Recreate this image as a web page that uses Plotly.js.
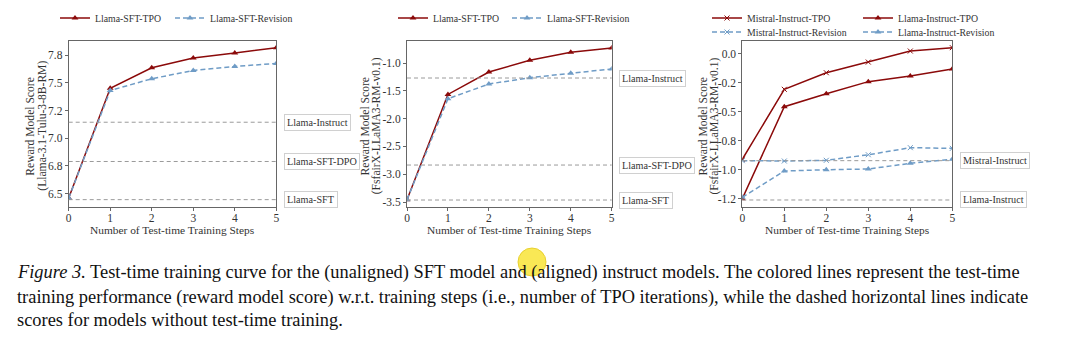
<!DOCTYPE html>
<html><head><meta charset="utf-8">
<script src="https://cdn.plot.ly/plotly-3.0.1.min.js"></script>
<style>html,body{margin:0;padding:0;background:#fff}#c{width:1080px;height:354px}</style>
</head><body><div id="c"></div>
<script>
const steps = [0, 1, 2, 3, 4, 5];
const stepLabels = ['0', '1', '2', '3', '4', '5'];
const xTitle = 'Number of Test-time Training Steps';

// Panel 1 (Llama-3.1-Tulu-3-8B-RM)
const p1Tpo = [6.46, 7.45, 7.635, 7.723, 7.768, 7.816];
const p1Rev = [6.46, 7.43, 7.536, 7.611, 7.647, 7.674];
const p1BaseNames = ['Llama-Instruct', 'Llama-SFT-DPO', 'Llama-SFT'];
const p1BaseVals = [7.144, 6.79, 6.446];
const p1TickVals = [6.5, 6.75, 7.0, 7.25, 7.5, 7.75];
const p1TickText = ['6.5', '6.8', '7.0', '7.2', '7.5', '7.8'];
const p1YTitle = ['Reward Model Score', '(Llama-3.1-Tulu-3-8B-RM)'];

// Panel 2 (FsfairX-LLaMA3-RM-v0.1), SFT model
const p2Tpo = [-3.46, -1.565, -1.162, -0.951, -0.808, -0.73];
const p2Rev = [-3.46, -1.643, -1.378, -1.264, -1.185, -1.108];
const p2BaseNames = ['Llama-Instruct', 'Llama-SFT-DPO', 'Llama-SFT'];
const p2BaseVals = [-1.27, -2.835, -3.464];
const p2TickVals = [-3.5, -3.0, -2.5, -2.0, -1.5, -1.0];
const p2TickText = ['-3.5', '-3.0', '-2.5', '-2.0', '-1.5', '-1.0'];
const p2YTitle = ['Reward Model Score', '(FsfairX-LLaMA3-RM-v0.1)'];

// Panel 3 (FsfairX-LLaMA3-RM-v0.1), instruct models
const p3MistralTpo = [-0.91, -0.307, -0.164, -0.072, 0.023, 0.052];
const p3LlamaTpo = [-1.25, -0.457, -0.345, -0.241, -0.192, -0.132];
const p3MistralRev = [-0.922, -0.925, -0.919, -0.871, -0.81, -0.816];
const p3LlamaRev = [-1.238, -1.011, -1.0, -0.994, -0.945, -0.91];
const p3BaseNames = ['Mistral-Instruct', 'Llama-Instruct'];
const p3BaseVals = [-0.922, -1.261];
const p3TickVals = [-1.25, -1.0, -0.75, -0.5, -0.25, 0.0];
const p3TickText = ['-1.2', '-1.0', '-0.8', '-0.5', '-0.2', '0.0'];
const p3YTitle = ['Reward Model Score', '(FsfairX-LLaMA3-RM-v0.1)'];

const captionLines = [
  '<i>Figure 3.</i> Test-time training curve for the (unaligned) SFT model and (aligned) instruct models. The colored lines represent the test-time',
  'training performance (reward model score) w.r.t. training steps (i.e., number of TPO iterations), while the dashed horizontal lines indicate',
  'scores for models without test-time training.'
];

const RED = '#8b0a0a', BLUE = '#6f9cc6', GRAY = '#9a9a9a';
const FONT = 'Liberation Serif, Times New Roman, serif';

function tpo(y, name, xa, ya, leg, sym) {
  const m = sym === 'x-thin'
    ? {symbol: 'x-thin', size: 5, color: RED, line: {color: RED, width: 1}}
    : {symbol: 'triangle-up', size: 6, color: RED};
  return {x: steps, y: y, name: name, xaxis: xa, yaxis: ya, legend: leg, mode: 'lines+markers',
    line: {color: RED, width: 1.5}, marker: m, hoverinfo: 'skip'};
}
function rev(y, name, xa, ya, leg, sym) {
  const m = sym === 'x-thin'
    ? {symbol: 'x-thin', size: 5, color: BLUE, line: {color: BLUE, width: 1}}
    : {symbol: 'triangle-up', size: 6, color: BLUE};
  return {x: steps, y: y, name: name, xaxis: xa, yaxis: ya, legend: leg, mode: 'lines+markers',
    line: {color: BLUE, width: 1.5, dash: '5px,3px'}, marker: m, hoverinfo: 'skip'};
}

const data = [
  tpo(p1Tpo, 'Llama-SFT-TPO', 'x', 'y', 'legend'),
  rev(p1Rev, 'Llama-SFT-Revision', 'x', 'y', 'legend5'),
  tpo(p2Tpo, 'Llama-SFT-TPO', 'x2', 'y2', 'legend2'),
  rev(p2Rev, 'Llama-SFT-Revision', 'x2', 'y2', 'legend6'),
  tpo(p3MistralTpo, 'Mistral-Instruct-TPO', 'x3', 'y3', 'legend3', 'x-thin'),
  tpo(p3LlamaTpo, 'Llama-Instruct-TPO', 'x3', 'y3', 'legend3'),
  rev(p3MistralRev, 'Mistral-Instruct-Revision', 'x3', 'y3', 'legend4', 'x-thin'),
  rev(p3LlamaRev, 'Llama-Instruct-Revision', 'x3', 'y3', 'legend4')
];

const H = 354, W = 1080;
const yDom = [(H - 207.3) / H, (H - 40.7) / H];
function xax(d, anc) {
  return {domain: d, anchor: anc, range: [0, 5], tickvals: steps, ticktext: stepLabels, showgrid: false, zeroline: false,
    showline: true, mirror: true, linecolor: '#666', linewidth: 1, ticks: 'outside', ticklen: 3, tickcolor: '#666',
    ticklabelstandoff: -3, tickfont: {size: 11.5, color: '#333', family: FONT}};
}
function yax(anc, r, tv, tt) {
  return {domain: yDom, anchor: anc, range: r, tickvals: tv, ticktext: tt, showgrid: false, zeroline: false,
    showline: true, mirror: true, linecolor: '#666', linewidth: 1, ticks: 'outside', ticklen: 3, tickcolor: '#666',
    tickfont: {size: 11.5, color: '#333', family: FONT}};
}

const shapes = [], annotations = [];
function baselines(names, vals, xa, ya) {
  names.forEach((n, i) => {
    shapes.push({type: 'line', xref: xa + ' domain', yref: ya, x0: 0, x1: 1, y0: vals[i], y1: vals[i],
      line: {color: GRAY, width: 1, dash: '4px,3px'}});
    annotations.push({xref: xa + ' domain', yref: ya, x: 1.035, y: vals[i], xanchor: 'left', yanchor: 'middle',
      text: n, showarrow: false, font: {size: 10.2, color: '#333', family: FONT},
      bordercolor: '#d0d0d0', borderwidth: 1, borderpad: 2, bgcolor: '#fff'});
  });
}
baselines(p1BaseNames, p1BaseVals, 'x', 'y');
baselines(p2BaseNames, p2BaseVals, 'x2', 'y2');
baselines(p3BaseNames, p3BaseVals, 'x3', 'y3');

// two-line rotated y-axis titles
function ytitle(lines, xs) {
  lines.forEach((t, i) => {
    annotations.push({xref: 'paper', yref: 'paper', x: xs[i] / W, y: 1 - 126 / H, xanchor: 'center', yanchor: 'middle',
      textangle: -90, text: t, showarrow: false, font: {size: 11.6, color: '#333', family: FONT}});
  });
}
ytitle(p1YTitle, [30.7, 42.7]);
ytitle(p2YTitle, [365.5, 377.3]);
ytitle(p3YTitle, [703.5, 714.5]);

// x-axis titles
['x', 'x2', 'x3'].forEach(xa => {
  annotations.push({xref: xa + ' domain', yref: 'paper', x: 0.5, y: 1 - 230 / H, xanchor: 'center', yanchor: 'middle',
    text: xTitle, showarrow: false, font: {size: 11.4, color: '#333', family: FONT}});
});

const capY = [272, 297, 320];
captionLines.forEach((t, i) => {
  annotations.push({xref: 'paper', yref: 'paper', x: 15 / W, y: 1 - capY[i] / H, xanchor: 'left', yanchor: 'middle',
    text: t, showarrow: false, align: 'left', font: {size: 18.4, color: '#111', family: FONT}});
});

// cursor highlight
shapes.push({type: 'circle', xref: 'paper', yref: 'paper', layer: 'above',
  x0: 518 / W, x1: 546 / W, y0: 1 - 276 / H, y1: 1 - 248 / H,
  fillcolor: 'rgba(248,230,70,0.92)', line: {color: 'rgba(230,205,40,0.9)', width: 1}});

function leg(x, y, ew) {
  const l = {orientation: 'h', x: x, y: y, xanchor: 'left', yanchor: 'middle', xref: 'paper', yref: 'paper',
    font: {size: 9.8, color: '#333', family: FONT}, bgcolor: 'rgba(0,0,0,0)', itemwidth: 30,
    tracegroupgap: 0, itemclick: false};
  if (ew) { l.entrywidth = ew; l.entrywidthmode = 'pixels'; }
  return l;
}

const layout = {
  width: W, height: H, margin: {l: 0, r: 0, t: 0, b: 0}, paper_bgcolor: '#fff', plot_bgcolor: '#fff',
  showlegend: true, hovermode: false,
  xaxis: xax([68.7 / W, 276.3 / W], 'y'),
  yaxis: yax('x', [6.377, 7.879], p1TickVals, p1TickText),
  xaxis2: xax([407 / W, 611.7 / W], 'y2'),
  yaxis2: yax('x2', [-3.595, -0.599], p2TickVals, p2TickText),
  xaxis3: xax([742.3 / W, 952.3 / W], 'y3'),
  yaxis3: yax('x3', [-1.324, 0.112], p3TickVals, p3TickText),
  legend: leg(55 / W, 1 - 18 / H),
  legend5: leg(170 / W, 1 - 18 / H),
  legend2: leg(393 / W, 1 - 18 / H),
  legend6: leg(507 / W, 1 - 18 / H),
  legend3: leg(707 / W, 1 - 18 / H, 106),
  legend4: leg(707 / W, 1 - 32 / H, 106),
  shapes: shapes, annotations: annotations
};
Plotly.newPlot('c', data, layout, {displayModeBar: false, staticPlot: true});
</script></body></html>
